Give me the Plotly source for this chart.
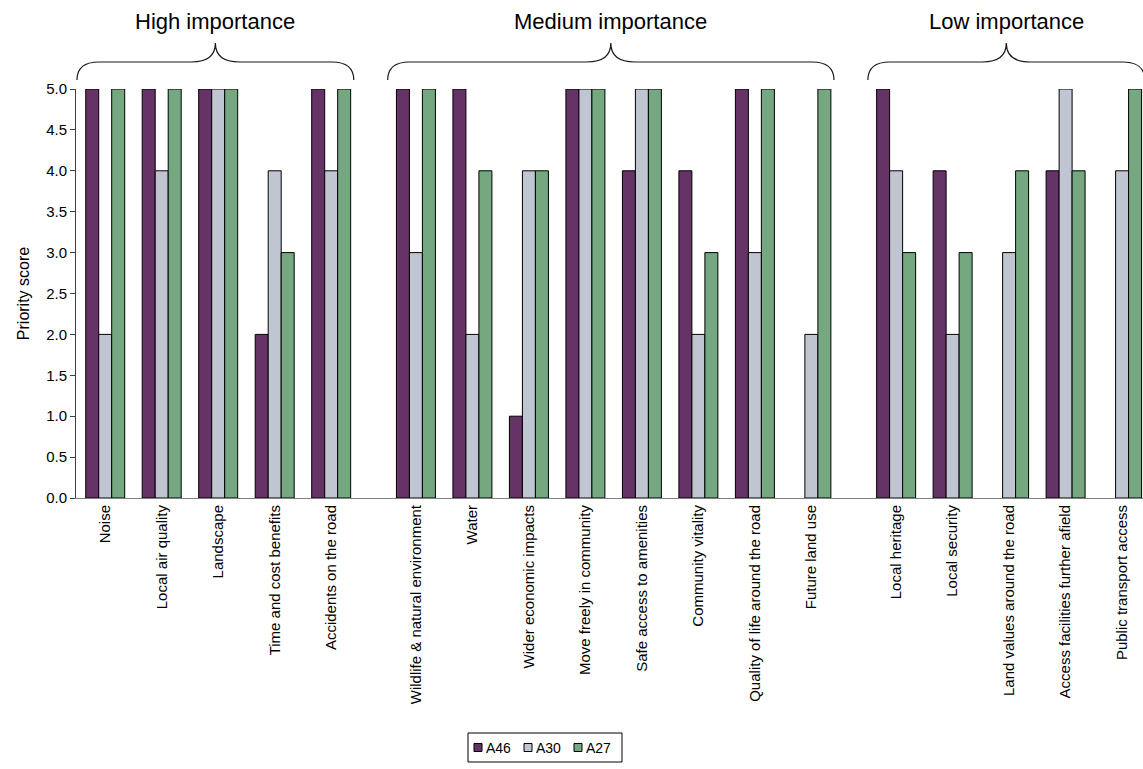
import plotly.graph_objects as go

# ---- data -----------------------------------------------------------------
high_categories = ["Noise", "Local air quality", "Landscape",
                   "Time and cost benefits", "Accidents on the road"]
medium_categories = ["Wildlife & natural environment", "Water",
                     "Wider economic impacts", "Move freely in community",
                     "Safe access to amenities", "Community vitality",
                     "Quality of life around the road", "Future land use"]
low_categories = ["Local heritage", "Local security",
                  "Land values around the road",
                  "Access facilities further afield",
                  "Public transport access"]
group_titles = ["High importance", "Medium importance", "Low importance"]

series_names = ["A46", "A30", "A27"]
a46 = [5, 5, 5, 2, 5,
       5, 5, 1, 5, 4, 4, 5, None,
       5, 4, None, 4, None]
a30 = [2, 4, 5, 4, 4,
       3, 2, 4, 5, 5, 2, 3, 2,
       4, 2, 3, 5, 4]
a27 = [5, 5, 5, 3, 5,
       5, 4, 4, 5, 5, 3, 5, 5,
       3, 3, 4, 4, 5]
y_ticks = [0.0, 0.5, 1.0, 1.5, 2.0, 2.5, 3.0, 3.5, 4.0, 4.5, 5.0]

# ---- styling ----------------------------------------------------------------
W, H = 1143, 769
M_L, M_R, M_T, M_B = 76, 0, 89, 271
FONT = "Arial, Liberation Sans, sans-serif"
colors = ["#663366", "#C0C5D2", "#75A881"]
GROUP_GAP = 0.5          # extra empty slot fraction between importance groups
X_RANGE = [-0.517, 18.37]

# x position of every category: consecutive slots, with a gap between groups
groups = [high_categories, medium_categories, low_categories]
categories, xpos, group_spans = [], [], []
slot = 0
for g, cats in enumerate(groups):
    first = slot + g * GROUP_GAP
    for c in cats:
        categories.append(c)
        xpos.append(slot + g * GROUP_GAP)
        slot += 1
    group_spans.append((first, xpos[-1]))

fig = go.Figure()
for name, vals, col in zip(series_names, [a46, a30, a27], colors):
    fig.add_trace(go.Bar(
        x=xpos, y=vals, name=name, showlegend=False,
        marker=dict(color=col, line=dict(color="#000000", width=1)),
    ))

plot_w = W - M_L - M_R
plot_h = H - M_T - M_B


def paper_x(xd):
    """data x -> paper x"""
    return (xd - X_RANGE[0]) / (X_RANGE[1] - X_RANGE[0])


def px_x(px):
    """pixel column -> paper x"""
    return (px - M_L) / plot_w


def paper_y(py):
    """pixel row -> paper y"""
    return (H - M_B - py) / plot_h


# ---- braces and group titles above the plot ---------------------------------
yb, yh, yt = paper_y(80), paper_y(62), paper_y(43)
r_end = 22 / plot_w
r_mid = 24 / plot_w

shapes, annotations = [], []
for title, (first, last) in zip(group_titles, group_spans):
    x0 = paper_x(first - 0.5)
    x1 = paper_x(last + 0.4)
    xm = (x0 + x1) / 2
    path = (f"M {x0},{yb} Q {x0},{yh} {x0 + r_end},{yh} "
            f"L {xm - r_mid},{yh} Q {xm},{yh} {xm},{yt} "
            f"Q {xm},{yh} {xm + r_mid},{yh} "
            f"L {x1 - r_end},{yh} Q {x1},{yh} {x1},{yb}")
    shapes.append(dict(type="path", path=path, xref="paper", yref="paper",
                       line=dict(color="#1a1a1a", width=1.2)))
    annotations.append(dict(text=title, x=xm, y=paper_y(22), xref="paper",
                            yref="paper", xanchor="center", yanchor="middle",
                            showarrow=False,
                            font=dict(family=FONT, size=22, color="#000000")))

# ---- compact boxed legend below the category labels --------------------------
LEG_L, LEG_R, LEG_T, LEG_B = 468, 622, 733, 762
LEG_STEP, SW = 50, 8
leg_cy = (LEG_T + LEG_B) / 2
shapes.append(dict(type="rect", xref="paper", yref="paper",
                   x0=px_x(LEG_L), x1=px_x(LEG_R),
                   y0=paper_y(LEG_B), y1=paper_y(LEG_T),
                   line=dict(color="#000000", width=1), fillcolor="#ffffff"))
for i, (name, col) in enumerate(zip(series_names, colors)):
    sx = LEG_L + 6 + i * LEG_STEP
    shapes.append(dict(type="rect", xref="paper", yref="paper",
                       x0=px_x(sx), x1=px_x(sx + SW),
                       y0=paper_y(leg_cy + SW / 2), y1=paper_y(leg_cy - SW / 2),
                       line=dict(color="#000000", width=1), fillcolor=col))
    annotations.append(dict(text=name, x=px_x(sx + SW + 2), y=paper_y(leg_cy),
                            xref="paper", yref="paper", xanchor="left",
                            yanchor="middle", showarrow=False,
                            font=dict(family=FONT, size=14, color="#000000")))

fig.update_layout(
    width=W, height=H,
    margin=dict(l=M_L, r=M_R, t=M_T, b=M_B, autoexpand=False),
    paper_bgcolor="#ffffff", plot_bgcolor="#ffffff",
    font=dict(family=FONT, size=15, color="#000000"),
    barmode="group", bargap=0.31, bargroupgap=0,
    shapes=shapes, annotations=annotations,
    showlegend=False,
    xaxis=dict(range=X_RANGE, tickvals=xpos, ticktext=categories,
               tickangle=-90, ticks="", showgrid=False, zeroline=False,
               showline=True, linecolor="#808080", linewidth=1,
               tickfont=dict(family=FONT, size=15, color="#000000")),
    yaxis=dict(range=[0, 5], tickvals=y_ticks,
               ticktext=[f"{v:.1f}" for v in y_ticks],
               ticks="outside", ticklen=5, tickcolor="#404040",
               showgrid=False, zeroline=False, showline=True,
               linecolor="#404040", linewidth=1,
               tickfont=dict(family=FONT, size=15, color="#000000"),
               title=dict(text="Priority score", standoff=12,
                          font=dict(family=FONT, size=16, color="#000000"))),
)

fig.write_html("out.html")
